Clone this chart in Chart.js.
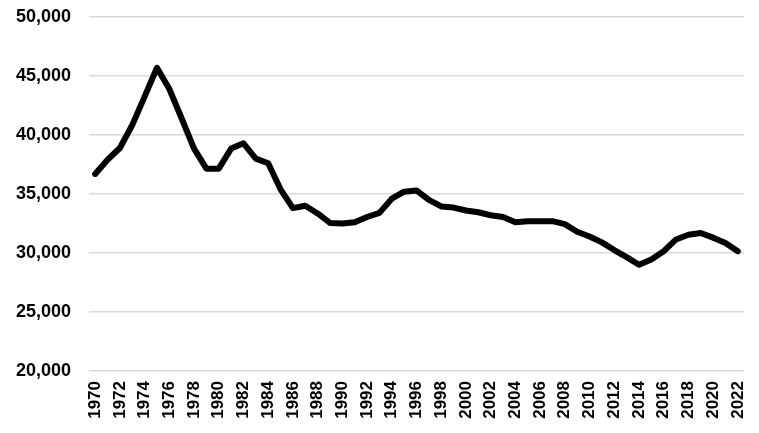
<!DOCTYPE html>
<html>
<head>
<meta charset="utf-8">
<script src="https://cdn.jsdelivr.net/npm/chart.js@4/dist/chart.umd.min.js"></script>
<style>
  html, body { margin: 0; padding: 0; background: #fff; }
  .chart-wrap { width: 759px; height: 433px; position: relative; }
</style>
</head>
<body>
<div class="chart-wrap"><canvas id="lineChart"></canvas></div>
<script>
// years 1970..2022
const years = [
  1970, 1971, 1972, 1973, 1974, 1975, 1976, 1977, 1978, 1979,
  1980, 1981, 1982, 1983, 1984, 1985, 1986, 1987, 1988, 1989,
  1990, 1991, 1992, 1993, 1994, 1995, 1996, 1997, 1998, 1999,
  2000, 2001, 2002, 2003, 2004, 2005, 2006, 2007, 2008, 2009,
  2010, 2011, 2012, 2013, 2014, 2015, 2016, 2017, 2018, 2019,
  2020, 2021, 2022
];

// values
const values = [
  36700, 37900, 38900, 40850, 43250, 45700, 43900, 41400, 38850, 37150,
  37150, 38850, 39300, 38000, 37600, 35400, 33800, 34000, 33350, 32550,
  32500, 32600, 33050, 33400, 34600, 35200, 35300, 34500, 33950, 33850,
  33600, 33450, 33200, 33050, 32600, 32700, 32700, 32700, 32450, 31800,
  31400, 30900, 30250, 29650, 29000, 29450, 30150, 31150, 31550, 31700,
  31300, 30850, 30150
];

const yMin = 20000;
const yMax = 50000;
const yStep = 5000;

const font = "'Liberation Sans', Arial, sans-serif";

new Chart(document.getElementById('lineChart'), {
  type: 'line',
  data: {
    labels: years.map(String),
    datasets: [{
      data: values,
      borderColor: '#000',
      borderWidth: 6,
      borderJoinStyle: 'round',
      borderCapStyle: 'round',
      pointRadius: 0,
      tension: 0,
      fill: false
    }]
  },
  options: {
    responsive: true,
    maintainAspectRatio: false,
    animation: false,
    layout: { padding: { top: 17, right: 15, left: 0, bottom: 0 } },
    plugins: {
      legend: { display: false },
      tooltip: { enabled: false }
    },
    scales: {
      x: {
        offset: true,
        grid: { display: false, drawTicks: false },
        border: { display: false },
        afterFit: (s) => {
          s.height = 62;
          s.paddingLeft = 0;
          s.paddingRight = 0;
        },
        ticks: {
          autoSkip: false,
          minRotation: 90,
          maxRotation: 90,
          padding: 10,
          color: '#000',
          font: { family: font, size: 17, weight: 'bold' },
          callback: (v, i) => (i % 2 === 0 ? years[i] : '')
        }
      },
      y: {
        min: yMin,
        max: yMax,
        grid: { color: '#d9d9d9', lineWidth: 1.5, drawTicks: false },
        border: { display: false },
        afterFit: (s) => {
          s.width = 89;
          s.paddingTop = 0;
          s.paddingBottom = 0;
        },
        ticks: {
          stepSize: yStep,
          padding: 18,
          color: '#000',
          font: { family: font, size: 18, weight: 'bold' },
          callback: (v) => v.toLocaleString('en-US')
        }
      }
    }
  }
});
</script>
</body>
</html>
